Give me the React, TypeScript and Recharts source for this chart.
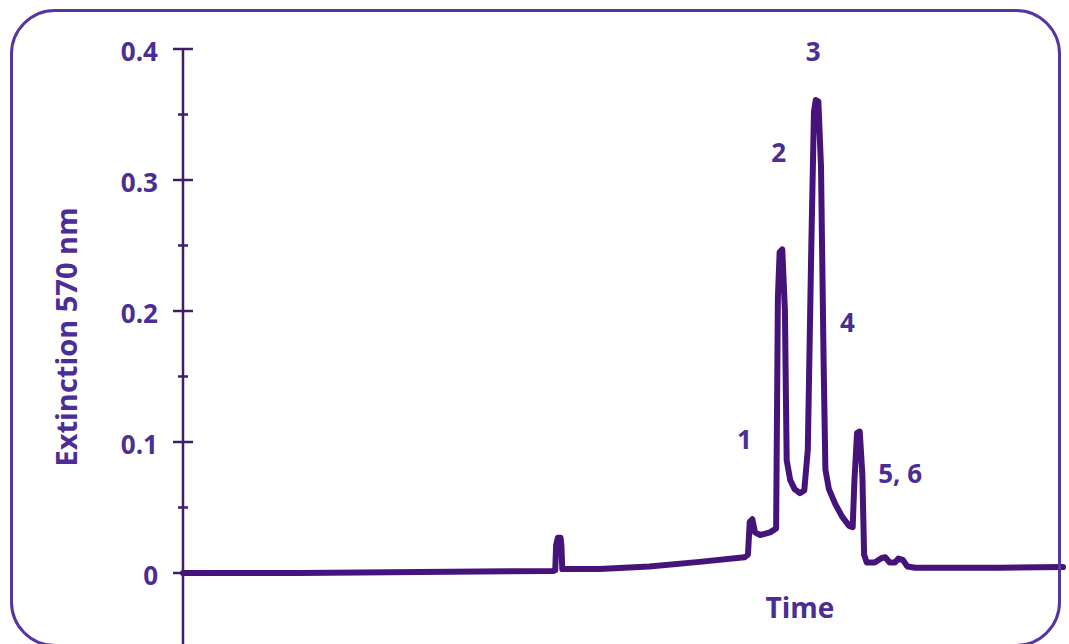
import React from "react"
import { LineChart, Line, XAxis, YAxis, ReferenceDot, Label } from "recharts"

// chromatogram trace, time in arbitrary units (0-100), extinction at 570 nm
const time = [
  0, 13.2, 30.3, 42.0, 42.3, 42.4, 42.6, 42.9, 43.0, 43.1,
  47.3, 53.0, 58.7, 63.8, 64.2, 64.4, 64.7, 65.0, 65.6, 66.7,
  67.4, 67.6, 67.8, 68.1, 68.4, 68.6, 69.0, 69.5, 70.1, 70.6,
  71.0, 71.4, 71.7, 71.9, 72.2, 72.5, 72.8, 73.0, 73.4, 74.1,
  74.9, 75.7, 76.1, 76.3, 76.6, 76.9, 77.2, 77.4, 77.7, 78.6,
  79.4, 79.8, 80.3, 80.9, 81.3, 81.8, 82.3, 83.2, 92.8, 100,
]
const extinction = [
  0, 0, 0.001, 0.0015, 0.002, 0.021, 0.027, 0.027, 0.021, 0.003,
  0.003, 0.005, 0.0085, 0.012, 0.014, 0.039, 0.041, 0.031, 0.029, 0.031,
  0.034, 0.21, 0.245, 0.247, 0.2, 0.086, 0.071, 0.064, 0.061, 0.063,
  0.094, 0.25, 0.352, 0.361, 0.36, 0.31, 0.16, 0.079, 0.064, 0.053,
  0.043, 0.036, 0.035, 0.071, 0.107, 0.108, 0.075, 0.014, 0.008, 0.008,
  0.0115, 0.012, 0.008, 0.008, 0.011, 0.01, 0.005, 0.004, 0.004, 0.0045,
]

const yTicks = [0, 0.05, 0.1, 0.15, 0.2, 0.25, 0.3, 0.35, 0.4]
const majorTicks = [0, 0.1, 0.2, 0.3, 0.4]

const peakLabels = ["1", "2", "3", "4", "5, 6"]
const peakTime = [63.8, 67.7, 71.6, 75.5, 81.5]
const peakLevel = [0.1015, 0.321, 0.398, 0.191, 0.076]

const data = time.map((t, i) => ({ t, v: extinction[i] }))

const TEXT = "#4b2d96"
const LINE = "#46137a"
const AXIS = "#3f1d6e"
const FONT = "'Open Sans', sans-serif"
const AXIS_X = 183

function AxisTick(props: any) {
  const { y, payload } = props
  const value = Math.round(payload.value * 100) / 100
  const major = majorTicks.includes(value)
  const half = major ? 10 : 5
  return (
    <g>
      <line x1={AXIS_X - half} x2={AXIS_X + half} y1={y} y2={y} stroke={AXIS} strokeWidth={2.5} />
      {major && (
        <text x={158} y={y} dy={12} textAnchor="end" fill={TEXT} fontSize={26} fontWeight={700} fontFamily={FONT}>
          {String(value)}
        </text>
      )}
    </g>
  )
}

export default function App() {
  return (
    <div style={{ position: "fixed", left: 0, top: 0, width: 1069, height: 644, background: "#fff", overflow: "hidden" }}>
      <LineChart width={1069} height={644} data={data} margin={{ top: 49, right: 6, bottom: 0, left: 0 }}>
        <XAxis dataKey="t" type="number" domain={[0, 100]} hide />
        <YAxis
          type="number"
          domain={[-0.0542, 0.4]}
          ticks={yTicks}
          width={AXIS_X}
          allowDataOverflow
          interval={0}
          tickLine={false}
          tick={<AxisTick />}
          axisLine={{ stroke: AXIS, strokeWidth: 2.5 }}
        >
          <Label
            content={(p: any) => {
              const vb = p.viewBox
              const cx = 65
              const cy = vb.y + 288
              return (
                <text x={cx} y={cy} transform={`rotate(-90 ${cx} ${cy})`} textAnchor="middle" dominantBaseline="central"
                  fill={TEXT} fontSize={29} fontWeight={700} fontFamily={FONT}>
                  Extinction 570 nm
                </text>
              )
            }}
          />
        </YAxis>
        <Line
          type="linear"
          dataKey="v"
          stroke={LINE}
          strokeWidth={6}
          strokeLinejoin="round"
          strokeLinecap="round"
          dot={false}
          isAnimationActive={false}
        />
        {peakLabels.map((s, i) => (
          <ReferenceDot key={s} x={peakTime[i]} y={peakLevel[i]} r={0} ifOverflow="visible"
            label={{ value: s, position: "center", fill: TEXT, fontSize: 26, fontWeight: 700, fontFamily: FONT }} />
        ))}
        <ReferenceDot x={70.1} y={-0.027} r={0} ifOverflow="visible"
          label={{ value: "Time", position: "center", fill: TEXT, fontSize: 28, fontWeight: 700, fontFamily: FONT }} />
      </LineChart>
      <div style={{ position: "absolute", left: 10, top: 9, width: 1051, height: 638, boxSizing: "border-box", border: "3px solid #5535a0", borderRadius: 45, pointerEvents: "none" }} />
    </div>
  )
}
